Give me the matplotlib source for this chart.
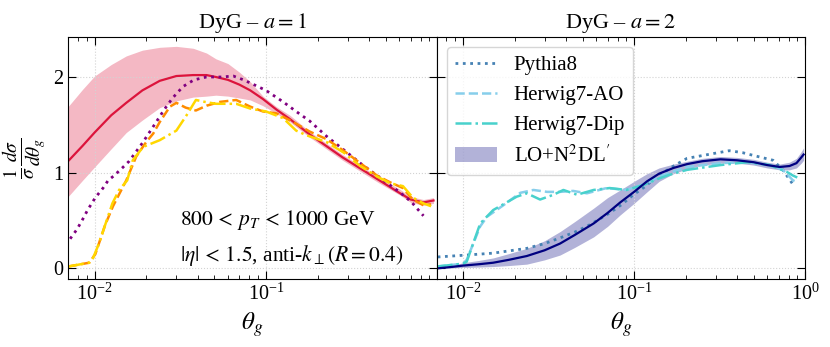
import matplotlib
matplotlib.use('Agg')
import matplotlib.pyplot as plt

# ---- a = 1 ----
theta_nl1 = [0.007, 0.0085, 0.01, 0.0125, 0.0153, 0.019, 0.024, 0.03, 0.0376, 0.045, 0.051,
             0.06, 0.07, 0.081, 0.096, 0.115, 0.138, 0.18, 0.28, 0.45, 0.6, 0.7, 0.83, 0.95]
nl1_central = [1.12, 1.28, 1.42, 1.60, 1.73, 1.86, 1.96, 2.01, 2.02, 2.02, 2.00,
               1.97, 1.92, 1.86, 1.77, 1.66, 1.56, 1.40, 1.16, 0.93, 0.79, 0.72, 0.69, 0.71]
nl1_upper = [1.69, 1.87, 2.01, 2.13, 2.22, 2.28, 2.31, 2.32, 2.30, 2.25, 2.19,
             2.14, 2.05, 1.95, 1.80, 1.69, 1.60, 1.43, 1.19, 0.96, 0.83, 0.75, 0.72, 0.74]
nl1_lower = [0.75, 0.92, 1.06, 1.25, 1.42, 1.55, 1.68, 1.75, 1.79, 1.80, 1.81,
             1.80, 1.78, 1.76, 1.70, 1.62, 1.53, 1.37, 1.13, 0.90, 0.77, 0.69, 0.66, 0.68]

theta_py1 = [0.0072, 0.0079, 0.0085, 0.0091, 0.0101, 0.0112, 0.012, 0.013, 0.0145, 0.0159,
             0.019, 0.0227, 0.0255, 0.0285, 0.0328, 0.038, 0.045, 0.055, 0.0645, 0.074,
             0.085, 0.1, 0.126, 0.15, 0.18, 0.226, 0.284, 0.355, 0.445, 0.53, 0.61, 0.71,
             0.75, 0.83]
py1 = [0.31, 0.41, 0.51, 0.61, 0.74, 0.84, 0.92, 0.97, 1.05, 1.12,
       1.31, 1.52, 1.66, 1.78, 1.90, 1.97, 2.00, 2.00, 2.01, 1.97,
       1.92, 1.86, 1.74, 1.64, 1.54, 1.38, 1.24, 1.10, 0.97, 0.87, 0.79, 0.69,
       0.64, 0.55]

theta_ao1 = [0.007, 0.0093, 0.0101, 0.0115, 0.0128, 0.0153, 0.0175, 0.02, 0.022, 0.024,
             0.0275, 0.03, 0.034, 0.039, 0.045, 0.054, 0.067, 0.081, 0.096, 0.115, 0.144,
             0.18, 0.226, 0.284, 0.355, 0.445, 0.53, 0.63, 0.72, 0.83, 0.92]
ao1 = [0.02, 0.06, 0.15, 0.45, 0.65, 0.92, 1.17, 1.32, 1.41, 1.53,
       1.69, 1.73, 1.68, 1.65, 1.70, 1.74, 1.76, 1.69, 1.64, 1.62, 1.53,
       1.43, 1.35, 1.23, 1.10, 0.97, 0.90, 0.84, 0.72, 0.66, 0.67]

theta_dip1 = [0.007, 0.0093, 0.0097, 0.0106, 0.0116, 0.0127, 0.0139, 0.0155, 0.0167, 0.0192,
              0.024, 0.03, 0.0344, 0.039, 0.044, 0.051, 0.067, 0.081, 0.1, 0.126, 0.15,
              0.173, 0.226, 0.284, 0.355, 0.445, 0.53, 0.63, 0.72, 0.83, 0.92]
dip1 = [0.02, 0.06, 0.09, 0.26, 0.47, 0.68, 0.82, 0.92, 1.13, 1.27,
        1.34, 1.44, 1.60, 1.76, 1.74, 1.72, 1.72, 1.67, 1.64, 1.57, 1.44,
        1.39, 1.32, 1.21, 1.07, 0.96, 0.89, 0.86, 0.74, 0.68, 0.65]

# ---- a = 2 ----
theta_nl2 = [0.007, 0.0085, 0.01, 0.0125, 0.015, 0.0185, 0.0236, 0.03, 0.0369, 0.045, 0.058,
             0.07, 0.083, 0.1, 0.119, 0.14, 0.17, 0.204, 0.25, 0.32, 0.40, 0.5, 0.6, 0.71,
             0.81, 0.89, 0.95, 0.98]
nl2_central = [0.00, 0.015, 0.03, 0.045, 0.06, 0.09, 0.13, 0.19, 0.26, 0.35, 0.47,
               0.58, 0.69, 0.80, 0.91, 0.99, 1.05, 1.09, 1.12, 1.14, 1.13, 1.11, 1.08, 1.06,
               1.07, 1.10, 1.16, 1.19]
nl2_upper = [0.005, 0.03, 0.06, 0.085, 0.11, 0.155, 0.21, 0.29, 0.385, 0.49, 0.63,
             0.74, 0.82, 0.91, 0.99, 1.05, 1.09, 1.12, 1.15, 1.17, 1.16, 1.14, 1.11, 1.09,
             1.11, 1.15, 1.22, 1.26]
nl2_lower = [0.0, 0.005, 0.01, 0.015, 0.02, 0.03, 0.045, 0.09, 0.14, 0.22, 0.33,
             0.44, 0.56, 0.68, 0.80, 0.91, 0.99, 1.04, 1.08, 1.10, 1.10, 1.08, 1.05, 1.03,
             1.03, 1.05, 1.10, 1.13]

theta_py2 = [0.0071, 0.0105, 0.015, 0.0236, 0.03, 0.037, 0.045, 0.053, 0.062, 0.072, 0.085,
             0.099, 0.115, 0.13, 0.148, 0.17, 0.204, 0.29, 0.36, 0.43, 0.5, 0.65, 0.74, 0.84]
py2 = [0.12, 0.14, 0.16, 0.21, 0.26, 0.32, 0.38, 0.44, 0.51, 0.58, 0.67,
       0.77, 0.85, 0.93, 1.00, 1.07, 1.15, 1.20, 1.23, 1.21, 1.18, 1.13, 1.03, 0.89]

theta_ao2 = [0.007, 0.01, 0.0105, 0.0126, 0.0138, 0.0172, 0.0216, 0.0258, 0.031, 0.037, 0.044,
             0.053, 0.069, 0.09, 0.119, 0.14, 0.204, 0.32, 0.46, 0.62, 0.74, 0.85, 0.9]
ao2 = [0.02, 0.05, 0.09, 0.44, 0.54, 0.66, 0.79, 0.82, 0.80, 0.80, 0.81,
       0.785, 0.84, 0.82, 0.89, 0.96, 1.06, 1.10, 1.11, 1.08, 1.03, 0.92, 0.90]

theta_dip2 = [0.007, 0.01, 0.0105, 0.0126, 0.015, 0.0206, 0.0236, 0.0282, 0.0338, 0.0386,
              0.0464, 0.058, 0.072, 0.09, 0.113, 0.14, 0.162, 0.204, 0.32, 0.46, 0.62, 0.78,
              0.85, 0.9]
dip2 = [0.02, 0.05, 0.07, 0.47, 0.61, 0.75, 0.785, 0.72, 0.77, 0.82,
        0.77, 0.82, 0.84, 0.82, 0.87, 0.94, 0.98, 1.03, 1.08, 1.11, 1.08, 1.01,
        0.97, 0.95]

plt.rcParams['font.family'] = 'serif'
plt.rcParams['font.serif'] = ['Liberation Serif', 'DejaVu Serif']
plt.rcParams['mathtext.fontset'] = 'stix'

fig, (ax1, ax2) = plt.subplots(1, 2, figsize=(8.3, 3.47), dpi=100, sharey=True)
plt.subplots_adjust(left=0.082, right=0.970, bottom=0.196, top=0.894, wspace=0)

# left panel
ax1.fill_between(theta_nl1, nl1_lower, nl1_upper, color='crimson', alpha=0.3, lw=0)
ax1.plot(theta_nl1, nl1_central, color='crimson', lw=1.6)
ax1.plot(theta_py1, py1, color='purple', ls=':', lw=2)
ax1.plot(theta_ao1, ao1, color='darkorange', ls='--', lw=1.8)
ax1.plot(theta_dip1, dip1, color='gold', ls='-.', lw=1.8)
ax1.set_title('DyG – $a=1$', fontsize=16)
ax1.set_ylabel(r'$\frac{1}{\sigma}\frac{d\sigma}{d\theta_g}$', fontsize=20)
ax1.text(0.303, 0.243, r'$800\,<\,p_T\,<\,1000$ GeV', transform=ax1.transAxes,
         fontsize=15.5, va='center')
ax1.text(0.303, 0.099, r'$|\eta|\,<\,1.5$, anti-$k_\perp(R=0.4)$', transform=ax1.transAxes,
         fontsize=15.5, va='center')

# right panel
ax2.plot(theta_py2, py2, color='steelblue', ls=':', lw=2, label='Pythia8')
ax2.plot(theta_ao2, ao2, color='skyblue', ls='--', lw=1.8, label='Herwig7-AO')
ax2.plot(theta_dip2, dip2, color='mediumturquoise', ls='-.', lw=1.8, label='Herwig7-Dip')
ax2.fill_between(theta_nl2, nl2_lower, nl2_upper, color='navy', alpha=0.3, lw=0,
                 label="LO+N$^2$DL$'$")
ax2.plot(theta_nl2, nl2_central, color='navy', lw=1.6)
ax2.set_title('DyG – $a=2$', fontsize=16)
ax2.legend(loc='upper left', fontsize=15, handlelength=2.0)

for ax in (ax1, ax2):
    ax.set_xscale('log')
    ax.set_ylim(-0.11, 2.42)
    ax.set_yticks([0, 1, 2])
    ax.set_xlabel(r'$\theta_g$', fontsize=18)
    ax.grid(True, which='major', ls=':', color='lightgray', lw=0.8)
    ax.tick_params(which='both', direction='in', top=True, right=True, labelsize=14.5)
    ax.tick_params(which='major', length=6)
    ax.tick_params(which='minor', length=3)
ax1.set_xlim(0.007, 0.99)
ax2.set_xlim(0.007, 1.0)
ax2.tick_params(labelleft=False)

plt.savefig('out.png', dpi=100)
